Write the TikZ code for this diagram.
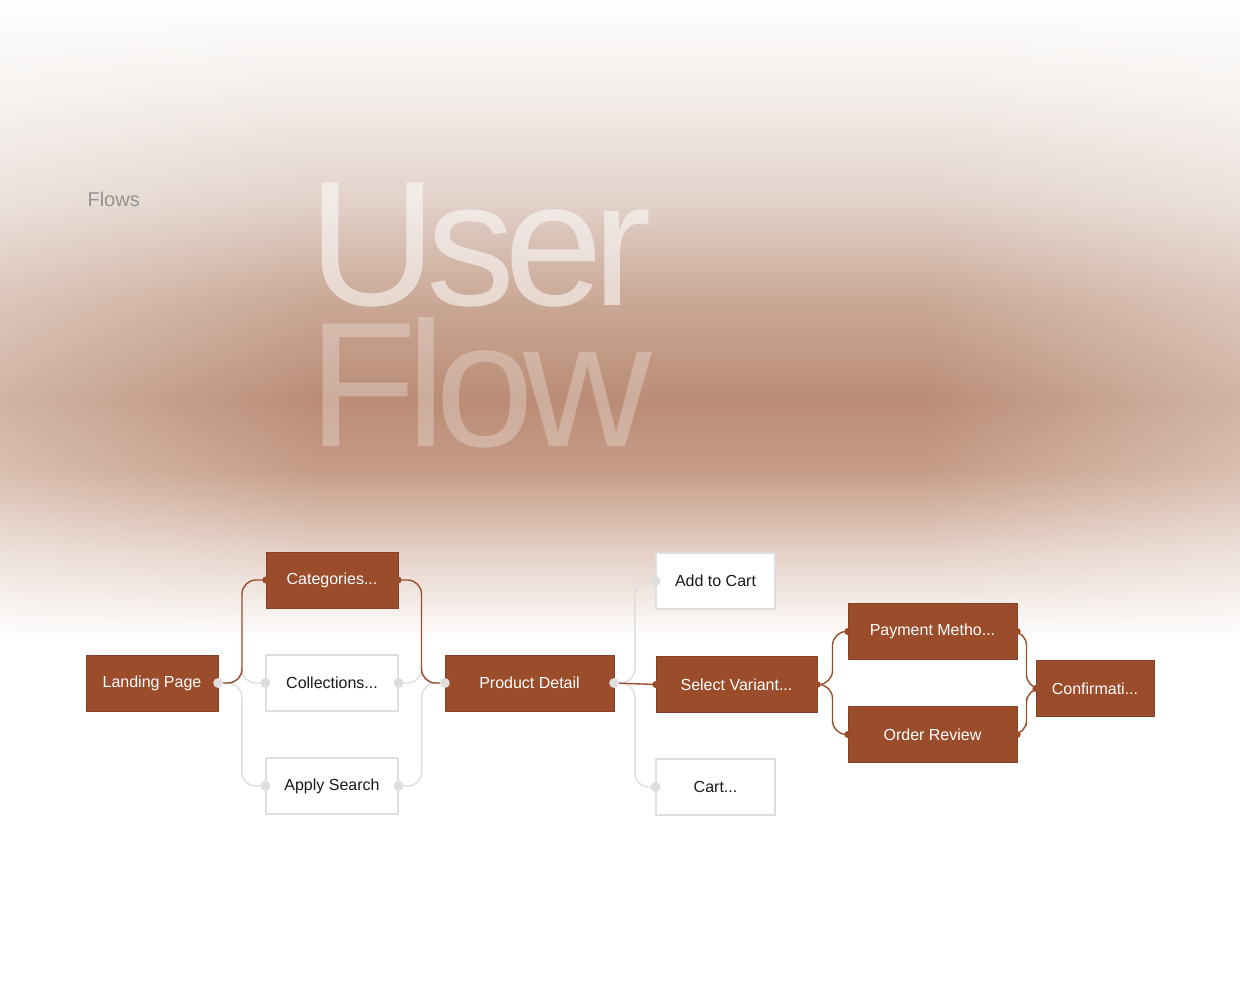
\documentclass[tikz,border=0pt]{standalone}
\usepackage{fontspec}
\setmainfont{Liberation Sans}
\usetikzlibrary{fadings,calc}
\definecolor{rust}{RGB}{154,76,43}
\definecolor{lg}{RGB}{222,222,222}
\definecolor{ink}{RGB}{25,25,25}
\definecolor{b1}{RGB}{242,236,232}
\definecolor{b2}{RGB}{226,210,202}
\definecolor{b3}{RGB}{202,168,150}
\definecolor{b4}{RGB}{186,140,117}
\definecolor{b5}{RGB}{198,156,134}
\definecolor{b6}{RGB}{228,208,198}
\begin{document}
\begin{tikzpicture}[x=1pt,y=-1pt,
  box/.style={minimum height=56pt, inner sep=0pt, font=\fontsize{16}{18}\selectfont},
  on/.style={box, fill=rust, draw=rust!85!black, text=white},
  off/.style={box, fill=white, draw=lg, line width=1.2pt, text=ink},
  ron/.style={draw=rust, line width=1.4pt, rounded corners=14pt},
  roff/.style={draw=lg, line width=1.4pt, rounded corners=14pt},
  gdot/.style={fill=lg},
  bdot/.style={fill=rust}]
\useasboundingbox (0,0) rectangle (1240,1001);
\fill[white] (0,0) rectangle (1240,1001);
\begin{scope}[yscale=-1]
\shade[top color=white, bottom color=b1] (0,0) rectangle (1240,-100.5);
\shade[top color=b1, bottom color=b2] (0,-100) rectangle (1240,-200.5);
\shade[top color=b2, bottom color=b3] (0,-200) rectangle (1240,-300.5);
\shade[top color=b3, bottom color=b4] (0,-300) rectangle (1240,-400.5);
\shade[top color=b4, bottom color=b5] (0,-400) rectangle (1240,-470.5);
\shade[top color=b5, bottom color=b6] (0,-470) rectangle (1240,-550.5);
\shade[top color=b6, bottom color=white] (0,-550) rectangle (1240,-640);
\fill[white, opacity=0.35, path fading=east] (0,0) rectangle (320,-640);
\fill[white, opacity=0.35, path fading=west] (920,0) rectangle (1240,-640);
\end{scope}
\node[anchor=west, text=gray!85, font=\fontsize{20}{22}\selectfont] (flows) at (84,199) {Flows};
\node[anchor=base west, inner sep=0pt, text=white, opacity=0.55, font=\fontsize{178}{178}\selectfont\addfontfeature{LetterSpace=-6}] (user) at (308,305) {User};
\node[anchor=base west, inner sep=0pt, text=white, opacity=0.28, font=\fontsize{178}{178}\selectfont\addfontfeature{LetterSpace=-6}] (flow) at (308,446) {Flow};

\node[on, minimum width=132pt] (lp) at (152,683) {Landing Page};
\node[on, minimum width=132pt] (cat) at (332,580) {Categories...};
\node[off, minimum width=132pt] (col) at (332,683) {Collections...};
\node[off, minimum width=132pt] (as) at (332,786) {Apply Search};
\node[on, minimum width=169pt] (pd) at (529.5,683) {Product Detail};
\node[off, minimum width=119pt] (atc) at (715.5,581) {Add to Cart};
\node[on, minimum width=161pt] (sv) at (736.5,684.5) {Select Variant...};
\node[off, minimum width=119pt] (cart) at (715.5,787) {Cart...};
\node[on, minimum width=169pt] (pm) at (932.5,631.5) {Payment Metho...};
\node[on, minimum width=169pt] (or) at (932.5,734.5) {Order Review};
\node[on, minimum width=118pt] (cf) at (1095,688.5) {Confirmati...};

\def\con#1#2#3{\draw[#3] (#1.east) -| ($(#1.east)!0.5!(#2.west)$) |- (#2.west);}
\con{lp}{col}{roff}
\con{lp}{as}{roff}
\con{col}{pd}{roff}
\con{as}{pd}{roff}
\con{pd}{atc}{roff}
\con{pd}{cart}{roff}
\con{lp}{cat}{ron}
\con{cat}{pd}{ron}
\draw[ron] (pd.east) -- (sv.west);
\con{sv}{pm}{ron}
\con{sv}{or}{ron}
\con{pm}{cf}{ron}
\con{or}{cf}{ron}

\foreach \p in {lp.east,col.west,col.east,as.west,as.east,pd.west,pd.east,atc.west,cart.west}
  \fill[gdot] (\p) circle (5pt);
\foreach \p in {cat.west,cat.east,sv.west,sv.east,pm.west,pm.east,or.west,or.east,cf.west}
  \fill[bdot] (\p) circle (3.5pt);
\end{tikzpicture}
\end{document}
